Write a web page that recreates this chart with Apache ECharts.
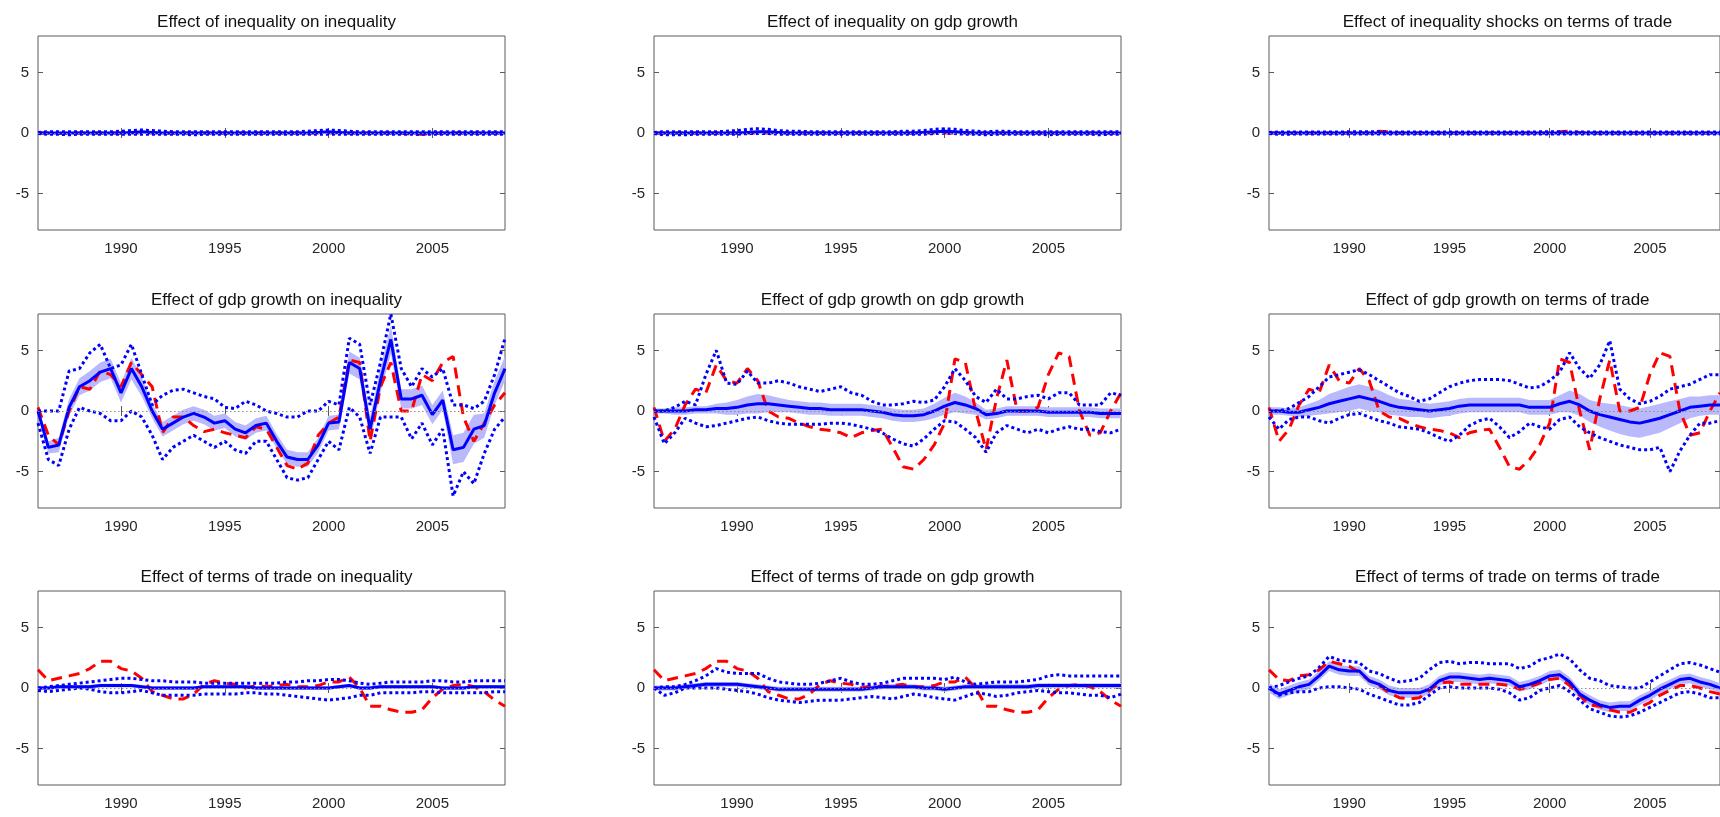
<!DOCTYPE html>
<html>
<head>
<meta charset="utf-8">
<script src="https://cdn.jsdelivr.net/npm/echarts@6/dist/echarts.min.js"></script>
<style>
  html, body { margin: 0; padding: 0; background: #fff; }
  #main { width: 1720px; height: 817px; }
</style>
</head>
<body>
<div id="main"></div>
<script>
// half-year grid, 1986.0 .. 2008.5
var years = [];
for (var i = 0; i < 46; i++) years.push(String(1986 + i * 0.5));
var tickYears = ['1990', '1995', '2000', '2005'];
var yTicks = [-5, 0, 5];

var titles = [
    'Effect of inequality on inequality', 'Effect of inequality on gdp growth', 'Effect of inequality shocks on terms of trade',
    'Effect of gdp growth on inequality', 'Effect of gdp growth on gdp growth', 'Effect of gdp growth on terms of trade',
    'Effect of terms of trade on inequality', 'Effect of terms of trade on gdp growth', 'Effect of terms of trade on terms of trade'
];

// row 1: inequality shocks
var iInqMid = [0,0,0,0,0,0,0,0,0,0.05, 0.1,0.05,0,0,0,0,0,0,0,0, 0,0,0,0,0,0,0,0.05,0.1,0.05, 0,0,0,0,0,0,0,0,0,0, 0,0,0,0,0,0];
var iInqHi  = [0.05,0.1,0.1,0.1,0.1,0.1,0.1,0.1,0.15,0.2, 0.25,0.2,0.15,0.1,0.1,0.1,0.1,0.1,0.1,0.1, 0.1,0.1,0.1,0.1,0.1,0.1,0.15,0.2,0.25,0.2, 0.15,0.1,0.1,0.1,0.1,0.1,0.1,0.1,0.1,0.1, 0.1,0.1,0.1,0.1,0.1,0.1];
var iInqLo  = [-0.05,-0.1,-0.1,-0.15,-0.1,-0.1,-0.1,-0.1,-0.1,-0.1, -0.1,-0.1,-0.1,-0.1,-0.1,-0.15,-0.1,-0.1,-0.1,-0.1, -0.1,-0.1,-0.1,-0.1,-0.1,-0.1,-0.1,-0.1,-0.1,-0.1, -0.1,-0.1,-0.1,-0.1,-0.1,-0.1,-0.1,-0.1,-0.1,-0.1, -0.1,-0.1,-0.1,-0.1,-0.1,-0.1];
var iInqRed = [0,0,-0.05,0,0,0,0,0,0,0, 0,0,0,0,0,0,0,0,0,0, 0,0,0,0,0,0,0,0,0,0, 0,0,0,0,0,0,-0.1,-0.1,-0.05,0, 0,0,0,0,0,0];
var iGdpMid = [0,0,0,0,0,0,0,0,0,0.05, 0.1,0.1,0.05,0,0,0,0,0,0,0, 0,0,0,0,0,0,0.05,0.1,0.15,0.1, 0.05,0,0,0,0,0,0,0,0,0, 0,0,0,0,0,0];
var iGdpHi  = [0.05,0.1,0.1,0.1,0.1,0.1,0.1,0.15,0.2,0.3, 0.35,0.3,0.2,0.15,0.15,0.1,0.1,0.1,0.1,0.1, 0.1,0.1,0.1,0.1,0.15,0.15,0.2,0.3,0.35,0.3, 0.2,0.15,0.1,0.15,0.15,0.1,0.1,0.1,0.1,0.1, 0.1,0.1,0.1,0.1,0.1,0.1];
var iGdpLo  = [-0.05,-0.15,-0.15,-0.15,-0.1,-0.1,-0.1,-0.1,-0.1,-0.05, -0.05,-0.05,-0.1,-0.1,-0.1,-0.1,-0.1,-0.1,-0.1,-0.1, -0.1,-0.1,-0.1,-0.1,-0.1,-0.1,-0.1,-0.05,0,-0.05, -0.1,-0.1,-0.15,-0.1,-0.1,-0.1,-0.1,-0.1,-0.15,-0.1, -0.1,-0.1,-0.1,-0.15,-0.1,-0.1];
var iGdpRed = [0,0,0,0,0,0,0,0,0,0, 0,0,0,0,0,0,0,0,0,0, 0,0,0,0,0,0,0,0,0,0, 0,0,0,0,0,0,0,0,0,0, 0,0,0,0,0,0];
var iTotMid = [0,0,0,0,0,0,0,0,0,0, 0,0,0,0,0,0,0,0,0,0, 0,0,0,0,0,0,0,0,0,0, 0,0,0,0,0,0,0,0,0,0, 0,0,0,0,0,0];
var iTotHi  = [0.05,0.08,0.08,0.08,0.08,0.08,0.08,0.08,0.1,0.1, 0.1,0.1,0.08,0.08,0.08,0.08,0.08,0.08,0.08,0.08, 0.08,0.08,0.08,0.08,0.08,0.08,0.08,0.1,0.1,0.1, 0.08,0.08,0.08,0.08,0.08,0.08,0.08,0.08,0.08,0.08, 0.08,0.08,0.08,0.08,0.08,0.08];
var iTotLo  = [-0.05,-0.1,-0.1,-0.08,-0.08,-0.08,-0.08,-0.08,-0.08,-0.08, -0.08,-0.08,-0.08,-0.08,-0.08,-0.08,-0.08,-0.08,-0.08,-0.08, -0.08,-0.08,-0.08,-0.08,-0.08,-0.08,-0.08,-0.08,-0.08,-0.08, -0.08,-0.08,-0.08,-0.08,-0.08,-0.08,-0.08,-0.08,-0.08,-0.08, -0.08,-0.08,-0.08,-0.08,-0.08,-0.08];
var iTotRed = [0,0,0,0,0,0,0,0,0,0, 0,0.15,0.1,0,0,0,0,0,0,0, 0,0,0,0,0,0,0,0,0,0.1, 0.15,0.05,0,0,0,0,0,0,0,0, 0,0,0,0,0,0];

// row 2: gdp growth shocks
var gInqMid = [0,-3,-2.8,0.3,2,2.5,3.2,3.5,1.5,3.5, 2.0,0,-1.5,-1,-0.5,-0.2,-0.5,-1,-0.8,-1.5, -1.8,-1.2,-1.0,-2.5,-3.8,-4,-4,-2.8,-1.0,-0.9, 4,3.5,-1.5,2.5,5.9,1.0,1.0,1.3,-0.3,0.9, -3.2,-3,-1.5,-1.2,1.5,3.5];
var gInqHi  = [0,0,0,3.3,3.5,4.8,5.5,3.5,3.8,5.5, 3,0.5,1.3,1.7,1.8,1.5,1.2,1,0.3,0.2, 0.8,0.5,0,-0.2,-0.5,-0.5,0,0,0.8,0.5, 6,5.5,0.5,4,8,3.5,2,3.5,2.8,3.5, 0.5,0.5,0.2,0.8,3,6];
var gInqLo  = [-1,-4,-4.5,-1.5,0.3,0,-0.2,-0.8,-0.8,0, -0.5,-2,-4,-3,-2.5,-2,-2.5,-3,-2.5,-3.2, -3.5,-2.5,-2.5,-4,-5.5,-5.7,-5.5,-4,-2.5,-3.2, 0.3,-0.5,-3.5,-0.5,-0.5,-0.5,-2.3,-1,-2.8,-1.5, -7,-5,-6,-3.5,-1.5,-0.5];
var gInqRed = [0.3,-2,-2.8,0,2,1.8,3.3,3,2,4, 3,2,-1.8,-0.5,-0.5,-1.2,-1.7,-1.5,-1.8,-2, -2.2,-1.3,-1.5,-3,-4.5,-4.8,-4.3,-2,-1,-0.5, 4.2,4,-2.5,2,4,0,0,3,2.5,4, 4.5,-0.5,-2.5,-1,0.5,1.5];
var gInqW   = [0.3,0.5,0.6,0.7,0.7,0.8,0.8,0.8,0.8,0.9, 0.8,0.6,0.6,0.6,0.6,0.6,0.6,0.6,0.6,0.6, 0.6,0.6,0.6,0.6,0.6,0.6,0.6,0.6,0.6,0.6, 0.9,0.9,1.0,1.0,1.2,0.8,0.8,0.8,0.8,0.8, 1.2,1.2,1.2,1.0,1.0,1.0];
var gGdpMid = [0,0,0,0,0.1,0.1,0.2,0.2,0.3,0.5, 0.6,0.6,0.5,0.4,0.3,0.2,0.2,0.1,0.1,0.1, 0.1,0,-0.1,-0.3,-0.4,-0.4,-0.3,0,0.4,0.7, 0.5,0.2,-0.3,-0.2,0,0,0,0,-0.1,-0.1, -0.1,-0.1,-0.1,-0.2,-0.2,-0.2];
var gGdpHi  = [0,0,0.3,0.8,0.5,3.0,5,2.3,2.2,3.3, 2.3,2.3,2.5,2.3,2.0,1.8,1.6,1.8,2.0,1.5, 1.3,0.8,0.5,0.5,0.6,0.8,0.7,0.9,2.0,3.5, 2.5,1.2,0.7,1.8,1.0,1.0,1.2,1.3,1.0,1.5, 1.5,0.5,0.5,0.5,1.5,1.3];
var gGdpLo  = [-0.5,-2.7,-1.8,-0.6,-1.0,-1.3,-1.2,-1.0,-0.8,-0.6, -0.5,-0.8,-1.0,-1.1,-1.1,-1.1,-1.1,-1.0,-1.0,-1.1, -1.3,-1.5,-1.8,-2.3,-2.7,-2.9,-2.3,-1.5,-0.8,-0.9, -1.5,-2.2,-3.4,-1.8,-1.2,-1.5,-1.8,-1.5,-1.8,-1.5, -1.3,-1.5,-1.5,-1.7,-1.8,-1.5];
var gGdpW   = [0.2,0.2,0.3,0.3,0.3,0.3,0.4,0.5,0.6,0.7, 0.8,0.7,0.6,0.5,0.5,0.5,0.5,0.5,0.5,0.5, 0.5,0.5,0.5,0.5,0.5,0.5,0.5,0.6,0.7,0.8, 0.7,0.5,0.4,0.4,0.4,0.4,0.4,0.4,0.4,0.4, 0.4,0.4,0.4,0.4,0.4,0.4];
var gTotMid = [0,0,-0.1,-0.1,0.1,0.3,0.6,0.8,1.0,1.2, 1.0,0.8,0.5,0.3,0.2,0.1,0,0.1,0.2,0.4, 0.5,0.5,0.5,0.5,0.5,0.5,0.3,0.3,0.3,0.6, 0.8,0.5,0,-0.3,-0.5,-0.7,-0.9,-1.0,-0.8,-0.6, -0.3,0,0.3,0.4,0.5,0.5];
var gTotHi  = [0,0,0.2,0.7,1.2,2.0,2.8,3.0,3.2,3.4, 3.0,2.5,2.0,1.5,1.2,0.8,1.0,1.5,2.0,2.3, 2.5,2.6,2.6,2.6,2.5,2.2,1.9,2.0,2.5,3.2, 4.8,3.5,2.7,3.8,5.8,1.8,1.0,0.6,0.8,1.2, 1.8,2.0,2.2,2.6,3.0,3.0];
var gTotLo  = [-0.5,-1.5,-0.7,-0.5,-0.5,-0.8,-1.0,-0.6,-0.3,-0.2, -0.5,-0.8,-1.0,-1.3,-1.4,-1.5,-1.8,-2.2,-2.5,-2.0, -1.2,-0.8,-0.6,-1.3,-2.2,-1.7,-1.0,-1.3,-1.5,-0.7, -0.5,-1.3,-1.8,-2.2,-2.5,-2.8,-3.0,-3.2,-3.2,-3.0, -5,-3.3,-2.0,-1.0,-1.0,-0.8];
var gTotW   = [0.3,0.3,0.3,0.4,0.5,0.6,0.8,0.9,1.0,1.0, 1.0,0.9,0.8,0.7,0.7,0.6,0.6,0.6,0.6,0.6, 0.6,0.6,0.6,0.6,0.6,0.6,0.6,0.6,0.6,0.7, 0.9,0.9,0.9,1.0,1.1,1.2,1.2,1.2,1.2,1.2, 1.1,1.0,0.9,0.8,0.8,0.8];
var redGdp  = [0.3,-2.5,-1.5,0.5,1.8,1.5,3.8,2.5,2.3,3.5, 2.5,0,-0.5,-0.6,-1,-1.3,-1.5,-1.6,-1.8,-2.2, -1.8,-1.6,-1.5,-3,-4.6,-4.8,-4,-2.8,-1,4.3, 4.0,0,-3.2,1,4.2,0,0,0.3,3,4.8, 4.5,0,-2,-1.8,0,1.5];

// row 3: terms of trade shocks
var tInqMid = [0,0,0.1,0.1,0.1,0.1,0.2,0.2,0.2,0.2, 0.1,0,0,0,0,0,0.1,0.1,0.1,0.1, 0.1,0,0,0,0,0,0,0,0,0.1, 0.2,0,0,0.1,0.1,0.1,0.1,0.1,0.1,0, 0,0,0.1,0.1,0.1,0.1];
var tInqHi  = [0,0.1,0.2,0.3,0.4,0.5,0.6,0.7,0.8,0.8, 0.7,0.6,0.6,0.5,0.5,0.5,0.4,0.4,0.4,0.4, 0.4,0.4,0.4,0.4,0.5,0.5,0.6,0.6,0.7,0.7, 0.6,0.4,0.3,0.4,0.5,0.5,0.5,0.5,0.6,0.6, 0.5,0.5,0.6,0.6,0.6,0.6];
var tInqLo  = [-0.2,-0.3,-0.2,-0.1,0,-0.1,-0.3,-0.4,-0.4,-0.3, -0.2,-0.4,-0.6,-0.6,-0.6,-0.6,-0.5,-0.5,-0.5,-0.5, -0.4,-0.4,-0.5,-0.5,-0.6,-0.7,-0.8,-0.9,-1.0,-0.9, -0.8,-0.6,-0.6,-0.4,-0.4,-0.4,-0.4,-0.3,-0.3,-0.4, -0.4,-0.4,-0.4,-0.4,-0.3,-0.3];
var tGdpMid = [0,0,0,0.1,0.2,0.3,0.3,0.3,0.3,0.2, 0.1,0,-0.1,-0.1,-0.1,-0.1,-0.1,-0.1,-0.1,-0.1, -0.1,0,0.1,0.1,0.1,0.1,0,0,-0.1,0, 0.1,0.1,0.1,0.1,0.1,0.1,0.1,0.2,0.2,0.2, 0.2,0.2,0.2,0.2,0.2,0.2];
var tGdpHi  = [0,0.1,0.1,0.3,0.6,1.0,1.6,1.3,1.2,1.2, 1.2,0.8,0.5,0.4,0.3,0.3,0.4,0.6,0.8,0.5, 0.3,0.3,0.4,0.6,0.8,0.8,0.8,0.8,0.7,0.9, 0.5,0.3,0.4,0.5,0.5,0.5,0.6,0.7,1.0,1.1, 1.0,1.0,1.0,1.0,1.0,1.0];
var tGdpLo  = [0,-0.6,-0.4,0,0,0,0,-0.1,-0.2,-0.3, -0.5,-0.8,-1.0,-1.1,-1.2,-1.1,-1.0,-1.0,-1.0,-0.9, -0.8,-0.7,-0.8,-0.9,-0.7,-0.5,-0.6,-0.8,-0.9,-1.0, -0.7,-0.4,-0.5,-0.7,-0.6,-0.4,-0.3,-0.2,-0.3,-0.4, -0.4,-0.5,-0.6,-0.6,-0.8,-0.5];
var redTot  = [1.5,0.6,0.8,1.0,1.2,1.6,2.2,2.2,1.6,1.4, 0.8,-0.3,-0.6,-0.9,-0.9,-0.5,0.3,0.6,0.4,0.3, 0,0.2,0.1,0.2,0.3,0.1,0.1,0.2,0.5,0.5, 0.9,0,-1.5,-1.5,-1.8,-2.0,-2.0,-1.8,-0.8,-0.1, 0.2,0.3,0.1,-0.3,-1.0,-1.5];
var tTotMid = [0,-0.5,-0.2,0.1,0.3,1.0,1.8,1.5,1.4,1.4, 0.6,0.3,-0.2,-0.4,-0.4,-0.4,-0.1,0.6,0.9,0.9, 0.8,0.7,0.8,0.7,0.6,0.1,0.3,0.6,1.0,1.1, 0.5,-0.5,-1.0,-1.4,-1.6,-1.5,-1.5,-1.0,-0.6,-0.1, 0.3,0.7,0.8,0.5,0.3,0];
var tTotHi  = [0,0.2,0.5,0.8,1.0,1.7,2.6,2.3,2.2,2.1, 1.4,1.2,0.8,0.5,0.6,0.8,1.5,2.1,2.2,2.0, 2.1,2.1,2.0,2.0,2.0,1.6,1.8,2.3,2.5,2.8, 2.4,1.5,0.8,0.6,0.2,0.1,0,0,0.5,1.0, 1.5,2.0,2.1,1.9,1.6,1.3];
var tTotLo  = [0,-0.6,-0.4,-0.3,-0.3,0,0.1,0.1,0,-0.1, -0.5,-0.8,-1.1,-1.4,-1.4,-1.2,-0.6,0,0.1,0, 0,0,0,-0.1,-0.4,-1.0,-0.8,-0.2,0,0.2, -0.3,-1.0,-1.7,-2.0,-2.3,-2.4,-2.3,-2.0,-1.6,-1.2, -0.8,-0.4,-0.3,-0.5,-0.8,-0.8];
var tTotRed = [1.5,0.7,0.6,1.0,1.1,1.5,2.2,2.0,1.8,1.3, 0.6,0.2,-0.4,-0.8,-0.9,-0.8,-0.2,0.4,0.5,0.3, 0.3,0.3,0.3,0.3,0.2,-0.1,0.1,0.4,0.7,0.8, 0.2,-0.6,-1.4,-1.5,-1.8,-2.0,-2.0,-1.6,-1.2,-0.6, -0.2,0.2,0.2,0,-0.3,-0.5];

var panels = [
    { mid: iInqMid, hi: iInqHi, lo: iInqLo, red: iInqRed, w: 0.05 },
    { mid: iGdpMid, hi: iGdpHi, lo: iGdpLo, red: iGdpRed, w: 0.08 },
    { mid: iTotMid, hi: iTotHi, lo: iTotLo, red: iTotRed, w: 0.05 },
    { mid: gInqMid, hi: gInqHi, lo: gInqLo, red: gInqRed, w: gInqW },
    { mid: gGdpMid, hi: gGdpHi, lo: gGdpLo, red: redGdp, w: gGdpW },
    { mid: gTotMid, hi: gTotHi, lo: gTotLo, red: redGdp, w: gTotW },
    { mid: tInqMid, hi: tInqHi, lo: tInqLo, red: redTot, w: 0.15 },
    { mid: tGdpMid, hi: tGdpHi, lo: tGdpLo, red: redTot, w: 0.2 },
    { mid: tTotMid, hi: tTotHi, lo: tTotLo, red: tTotRed, w: 0.4 }
];

var lefts = [38, 654, 1269];
var tops = [36, 314, 591];
var gw = 467, gh = 194;
var textColor = '#262626';
var frameColor = '#5a5a5a';
var font = 'Liberation Sans, Arial, sans-serif';

var grids = [], xAxes = [], yAxes = [], series = [], titleList = [];
var isTick = function (idx, val) { return tickYears.indexOf(val) >= 0; };

panels.forEach(function (p, k) {
    var r = Math.floor(k / 3), c = k % 3;
    grids.push({ left: lefts[c], top: tops[r], width: gw, height: gh, show: true,
        borderColor: frameColor, borderWidth: 1, backgroundColor: '#fff' });
    titleList.push({ text: titles[k], left: lefts[c] + gw / 2, top: tops[r] - 27, textAlign: 'center',
        textStyle: { fontFamily: font, fontSize: 17, fontWeight: 'normal', color: '#111' } });

    // bottom and top x axes (top only for the inward ticks)
    [0, 1].forEach(function (side) {
        xAxes.push({ type: 'category', gridIndex: k, data: years, boundaryGap: false,
            position: side ? 'top' : 'bottom',
            axisLine: { show: false },
            axisTick: { show: true, inside: true, interval: isTick, length: 5, lineStyle: { color: frameColor } },
            axisLabel: { show: !side, interval: isTick, margin: 11, color: textColor, fontFamily: font, fontSize: 15 },
            splitLine: { show: false } });
        yAxes.push({ type: 'value', gridIndex: k, min: -8, max: 8,
            position: side ? 'right' : 'left',
            axisLine: { show: false },
            axisTick: { show: true, inside: true, length: 5, customValues: yTicks, lineStyle: { color: frameColor } },
            axisLabel: { show: !side, customValues: yTicks, margin: 9, color: textColor, fontFamily: font, fontSize: 15 },
            splitLine: { show: false } });
    });
    var xi = 2 * k, yi = 2 * k;
    var wAt = function (i) { return Array.isArray(p.w) ? p.w[i] : p.w; };
    var base = p.mid.map(function (v, i) { return +(v - wAt(i)).toFixed(3); });
    var span = p.mid.map(function (v, i) { return +(2 * wAt(i)).toFixed(3); });
    var common = { type: 'line', xAxisIndex: xi, yAxisIndex: yi, symbol: 'none', silent: true, animation: false };

    series.push(Object.assign({}, common, { data: base, stack: 'band' + k, stackStrategy: 'all',
        lineStyle: { opacity: 0 } }));
    series.push(Object.assign({}, common, { data: span, stack: 'band' + k, stackStrategy: 'all',
        lineStyle: { opacity: 0 }, areaStyle: { color: '#b9b9fb', opacity: 1 },
        markLine: { silent: true, symbol: 'none', label: { show: false },
            lineStyle: { type: [1.5, 2.5], color: '#8c8c8c', width: 1 }, data: [{ yAxis: 0 }] } }));
    series.push(Object.assign({}, common, { data: p.red,
        lineStyle: { color: '#ff0000', width: 3, type: [11, 7] } }));
    series.push(Object.assign({}, common, { data: p.hi,
        lineStyle: { color: '#0000ff', width: 3, type: [3, 3] } }));
    series.push(Object.assign({}, common, { data: p.lo,
        lineStyle: { color: '#0000ff', width: 3, type: [3, 3] } }));
    series.push(Object.assign({}, common, { data: p.mid,
        lineStyle: { color: '#0000ff', width: 3 } }));
});

var myChart = echarts.init(document.getElementById('main'));
myChart.setOption({
    backgroundColor: '#fff',
    animation: false,
    title: titleList,
    grid: grids,
    xAxis: xAxes,
    yAxis: yAxes,
    series: series
});
</script>
</body>
</html>
